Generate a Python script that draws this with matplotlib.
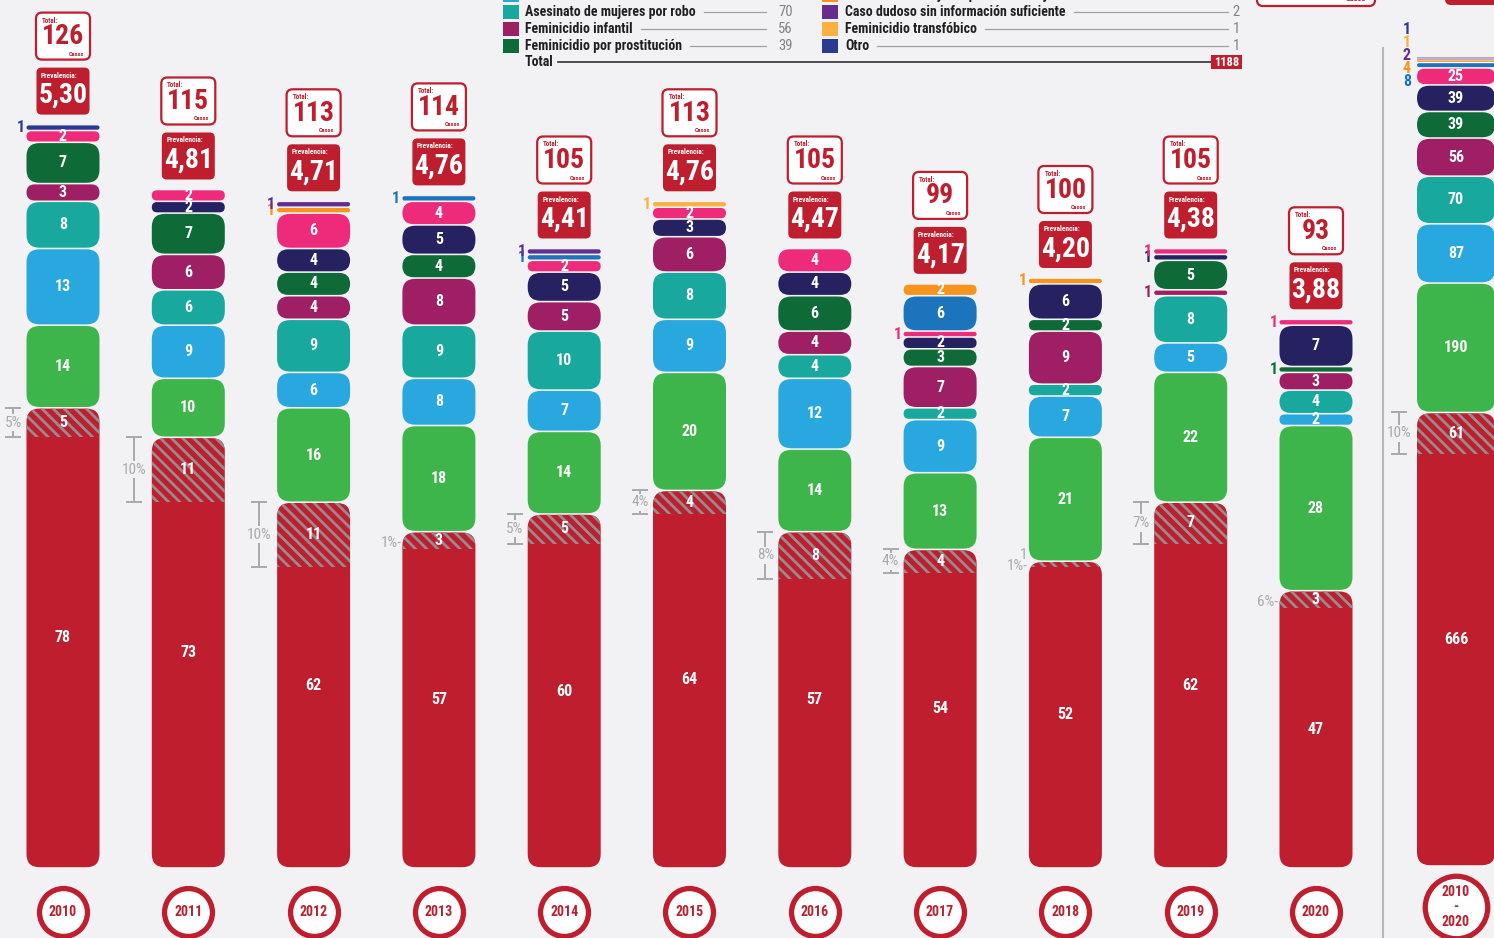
"""
Feminicidios por año 2010-2020: columnas apiladas por tipo, con total y prevalencia.
"""

import matplotlib
matplotlib.use("Agg")
import matplotlib.pyplot as plt
from matplotlib.patches import FancyBboxPatch, Rectangle
from matplotlib import font_manager

# ---------------------------------------------------------------------------
# Data
# ---------------------------------------------------------------------------
years = ["2010", "2011", "2012", "2013", "2014", "2015",
         "2016", "2017", "2018", "2019", "2020"]

categories = [
    "Feminicidio íntimo",
    "Feminicidio no íntimo",
    "Feminicidio familiar",
    "Asesinato de mujeres por robo",
    "Feminicidio infantil",
    "Feminicidio por prostitución",
    "Feminicidio por conexión",
    "Feminicidio sexual",
    "Feminicidio por ocupaciones estigmatizadas",
    "Asesinato de mujeres por violencia juvenil",
    "Caso dudoso sin información suficiente",
    "Feminicidio transfóbico",
    "Otro",
]
cat_colors = ["#be1e2d", "#3db54a", "#29a8e0", "#19a89d", "#9e1f63",
              "#0e6b38", "#262262", "#ee2a7b", "#1c75bc", "#f7941d",
              "#662d91", "#fbb040", "#2b3990"]

intimo      = [78, 73, 62, 57, 60, 64, 57, 54, 52, 62, 47]
no_intimo   = [14, 10, 16, 18, 14, 20, 14, 13, 21, 22, 28]
familiar    = [13, 9, 6, 8, 7, 9, 12, 9, 7, 5, 2]
robo        = [8, 6, 9, 9, 10, 8, 4, 2, 2, 8, 4]
infantil    = [3, 6, 4, 8, 5, 6, 4, 7, 9, 1, 3]
prostitucion = [7, 7, 4, 4, 0, 0, 6, 3, 2, 5, 1]
conexion    = [0, 2, 4, 5, 5, 3, 4, 2, 6, 1, 7]
sexual      = [2, 2, 6, 4, 2, 2, 4, 1, 0, 1, 1]
ocupaciones = [0, 0, 0, 1, 1, 0, 0, 6, 0, 0, 0]
juvenil     = [0, 0, 1, 0, 0, 0, 0, 2, 1, 0, 0]
dudoso      = [0, 0, 1, 0, 1, 0, 0, 0, 0, 0, 0]
transfobico = [0, 0, 0, 0, 0, 1, 0, 0, 0, 0, 0]
otro        = [1, 0, 0, 0, 0, 0, 0, 0, 0, 0, 0]

series = [intimo, no_intimo, familiar, robo, infantil, prostitucion, conexion,
          sexual, ocupaciones, juvenil, dudoso, transfobico, otro]

prevalencia = ["5,30", "4,81", "4,71", "4,76", "4,41", "4,76",
               "4,47", "4,17", "4,20", "4,38", "3,88"]

# part of the red (íntimo) cases that is hatched, with its percentage label
hatched = [5, 11, 11, 3, 5, 4, 8, 4, 1, 7, 3]
hatched_pct = ["5%", "10%", "10%", "1%", "5%", "4%", "8%", "4%", "1%", "7%", "6%"]
hatched_total = 61
hatched_total_pct = "10%"

# ---------------------------------------------------------------------------
# Layout / style
# ---------------------------------------------------------------------------
W, H = 1494, 938
BG = "#f2f2f4"
RED = "#be1e2d"
GREY = "#a7a9ac"
PXX = 125.3      # px per column step
PXY = 5.9        # px per case, yearly columns
PXY_T = 0.681    # px per case, total column
BASE_PX = 868    # pixel row of the yearly baseline
BASE_T = 866     # pixel row of the total baseline
BAR_W = 73
TOT_W = 78
X_TOT = (1455 - 62) / PXX

avail = {f.name for f in font_manager.fontManager.ttflist}
FONT = "DejaVu Sans"
for cand in ["Roboto Condensed", "Barlow Condensed", "Archivo Narrow"]:
    if cand in avail:
        FONT = cand
        break
plt.rcParams["font.family"] = [FONT, "DejaVu Sans"]
plt.rcParams["hatch.linewidth"] = 2.0
plt.rcParams["hatch.color"] = "#978b8d"

fig = plt.figure(figsize=(W / 100, H / 100), dpi=100, facecolor=BG)
x_left = -63 / PXX
ax = fig.add_axes([0, 0, 1, 1])
ax.set_xlim(x_left, x_left + W / PXX)
ax.set_ylim(-(H - BASE_PX) / PXY, BASE_PX / PXY)
ax.axis("off")
ax2 = fig.add_axes([0, 0, 1, 1])
ax2.set_xlim(x_left, x_left + W / PXX)
ax2.set_ylim(-(H - BASE_T) / PXY_T, BASE_T / PXY_T)
ax2.axis("off")
axl = fig.add_axes([0, 0, 1, 1])
axl.set_xlim(0, W)
axl.set_ylim(H, 0)
axl.axis("off")


def rbox(axx, x0, y0, w, h, pxy, r_px, **kw):
    r_px = max(0.0, min(r_px, h * pxy / 2, w * PXX / 2))
    p = FancyBboxPatch((x0, y0), w, h,
                       boxstyle=f"round,pad=0,rounding_size={r_px / PXX}",
                       mutation_aspect=PXX / pxy, **kw)
    axx.add_patch(p)
    return p


def draw_column(axx, xc, vals, pxy, width_px, hat, pct, inside_min, fs):
    w = width_px / PXX
    left = xc - w / 2
    base = 0
    red_patch = None
    outside = []
    for k, v in enumerate(vals):
        if v == 0:
            continue
        hpx = v * pxy
        g = min(0.8, hpx / 4) / pxy
        p = rbox(axx, left, base + g, w, v - 2 * g, pxy, 13,
                 fc=cat_colors[k], ec="none", lw=0, zorder=2)
        if k == 0:
            red_patch = p
            axx.text(xc, v / 2, str(v), color="white", fontsize=fs,
                     fontweight="bold", ha="center", va="center", zorder=4)
        elif v >= inside_min:
            axx.text(xc, base + v / 2, str(v), color="white", fontsize=fs,
                     fontweight="bold", ha="center", va="center", zorder=4)
        else:
            outside.append((k, v, base))
        base += v
    # hatched share of the red segment
    red_top = vals[0]
    hp = Rectangle((left, red_top - hat), w, hat, fc="none", ec="#978b8d",
                   lw=0, hatch="\\\\\\", zorder=3)
    axx.add_patch(hp)
    hp.set_clip_path(red_patch)
    mid = red_top - hat / 2
    if hat >= 2:
        axx.text(xc, mid, str(hat), color="white", fontsize=fs,
                 fontweight="bold", ha="center", va="center", zorder=4)
    else:
        axx.text(left - 5 / PXX, mid + 9 / pxy, str(hat), color=GREY,
                 fontsize=11, ha="center", va="center", zorder=4)
    if hat * pxy < 22:
        axx.text(left - 1 / PXX, mid - 2 / pxy, pct + "-", color=GREY,
                 fontsize=11, ha="right", va="center", zorder=4)
    else:
        off = 13 if len(pct) == 2 else 18
        cap = 7
        xb = left - off / PXX
        axx.plot([xb, xb], [red_top - hat, red_top], color=GREY, lw=1.4,
                 solid_capstyle="butt", zorder=3)
        for yy in (red_top - hat, red_top):
            axx.plot([xb - cap / PXX, xb + cap / PXX], [yy, yy], color=GREY,
                     lw=1.4, zorder=3)
        axx.text(xb, mid, pct, color=GREY, fontsize=11, ha="center",
                 va="center", zorder=4,
                 bbox=dict(fc=BG, ec="none", pad=1.2))
    return left, base, outside


# ---------------------------------------------------------------------------
# Yearly columns
# ---------------------------------------------------------------------------
for i, yr in enumerate(years):
    vals = [s[i] for s in series]
    left, top, outside = draw_column(ax, i, vals, PXY, BAR_W, hatched[i],
                                     hatched_pct[i], 2, 11.5)
    for k, v, b in outside:
        ax.text(left - 2 / PXX, b + v / 2, str(v), color=cat_colors[k],
                fontsize=11.5, fontweight="bold", ha="right", va="center",
                zorder=4)
    # prevalence box
    pb = top + 10 / PXY
    rbox(ax, i - 26.5 / PXX, pb, 53 / PXX, 47 / PXY, PXY, 5,
         fc=RED, ec="none", zorder=3)
    ax.text(i - 22 / PXX, pb + 43 / PXY, "Prevalencia:", color="white",
            fontsize=5.3, fontweight="bold", ha="left", va="top", zorder=4)
    ax.text(i, pb + 19 / PXY, prevalencia[i], color="white", fontsize=20,
            fontweight="bold", ha="center", va="center", zorder=4)
    # total box
    tb = top + 65 / PXY
    rbox(ax, i - 27 / PXX, tb, 54 / PXX, 47 / PXY, PXY, 6,
         fc="white", ec=RED, lw=1.6, zorder=3)
    ax.text(i - 21 / PXX, tb + 43 / PXY, "Total:", color=RED,
            fontsize=5, fontweight="bold", ha="left", va="top", zorder=4)
    ax.text(i, tb + 23 / PXY, str(top), color=RED, fontsize=20,
            fontweight="bold", ha="center", va="center", zorder=4)
    ax.text(i + 21 / PXX, tb + 3 / PXY, "Casos", color=RED,
            fontsize=4.5, fontweight="bold", ha="right", va="bottom", zorder=4)
    # year badge
    yc = -44 / PXY
    ax.plot([i], [yc], marker="o", ms=34.5, mfc="white", mec=RED, mew=3.8,
            zorder=5, clip_on=False)
    ax.text(i, yc, yr, color=RED, fontsize=10, fontweight="bold",
            ha="center", va="center", zorder=6)

# ---------------------------------------------------------------------------
# Total column 2010-2020
# ---------------------------------------------------------------------------
totals = [sum(s) for s in series]
left, top, outside = draw_column(ax2, X_TOT, totals, PXY_T, TOT_W,
                                 hatched_total, hatched_total_pct, 20, 11.5)
for n, (k, v, b) in enumerate(outside):
    ax2.text(left - 6 / PXX, 1172 - 14 / PXY_T + n * 13 / PXY_T, str(v),
             color=cat_colors[k], fontsize=11.5, fontweight="bold",
             ha="right", va="center", zorder=4)
ax.plot([X_TOT], [-39 / PXY], marker="o", ms=45, mfc="white", mec=RED,
        mew=3.8, zorder=5, clip_on=False)
ax.text(X_TOT, -39 / PXY, "2010\n-\n2020", color=RED, fontsize=10,
        fontweight="bold", ha="center", va="center", linespacing=1.05,
        zorder=6)
x_sep = (1383 - 63) / PXX
ax.plot([x_sep, x_sep], [(BASE_PX - 48) / PXY, -(H - BASE_PX) / PXY],
        color="#b8b8bb", lw=1.5, zorder=1)

# cropped total boxes at the top right
axl.add_patch(FancyBboxPatch((1257, -60), 118, 66,
                             boxstyle="round,pad=0,rounding_size=6",
                             fc="white", ec=RED, lw=1.6, zorder=3))
axl.text(1366, 2, "Casos", color=RED, fontsize=6, fontweight="bold",
         ha="right", va="bottom", zorder=4)
axl.add_patch(FancyBboxPatch((1445, -60), 90, 65,
                             boxstyle="round,pad=0,rounding_size=6",
                             fc=RED, ec="none", zorder=3))

# ---------------------------------------------------------------------------
# Legend (top rows fall outside the picture)
# ---------------------------------------------------------------------------
fig.canvas.draw()
rend = fig.canvas.get_renderer()
inv = axl.transData.inverted()
for k, cat in enumerate(categories):
    if k < 6:
        xs, xt, xe, xv, yy = 503, 525, 766, 793, 12 + 17 * (k - 3)
    else:
        xs, xt, xe, xv, yy = 822, 845, 1228, 1240, 12 + 17 * (k - 10)
    axl.add_patch(Rectangle((xs, yy - 7), 16, 14, fc=cat_colors[k],
                            ec="none", zorder=3))
    t = axl.text(xt, yy, cat, color="#231f20", fontsize=10,
                 fontweight="bold", ha="left", va="center", zorder=4)
    axl.text(xv, yy, str(totals[k]), color="#808285", fontsize=10.5,
             ha="right", va="center", zorder=4)
    bb = t.get_window_extent(rend)
    x_end_text = inv.transform((bb.x1, 0))[0]
    axl.plot([x_end_text + 8, xe], [yy, yy], color="#a0a0a3", lw=0.9,
             zorder=3)

axl.text(525, 62, "Total", color="#231f20", fontsize=10, fontweight="bold",
         ha="left", va="center", zorder=4)
axl.plot([558, 1211], [62, 62], color="#231f20", lw=1.1, zorder=3)
axl.add_patch(Rectangle((1211, 55), 31, 14, fc=RED, ec="none", zorder=3))
axl.text(1226.5, 62, str(sum(totals)), color="white", fontsize=9,
         fontweight="bold", ha="center", va="center", zorder=4)

fig.savefig("out.png", dpi=100, facecolor=BG)
